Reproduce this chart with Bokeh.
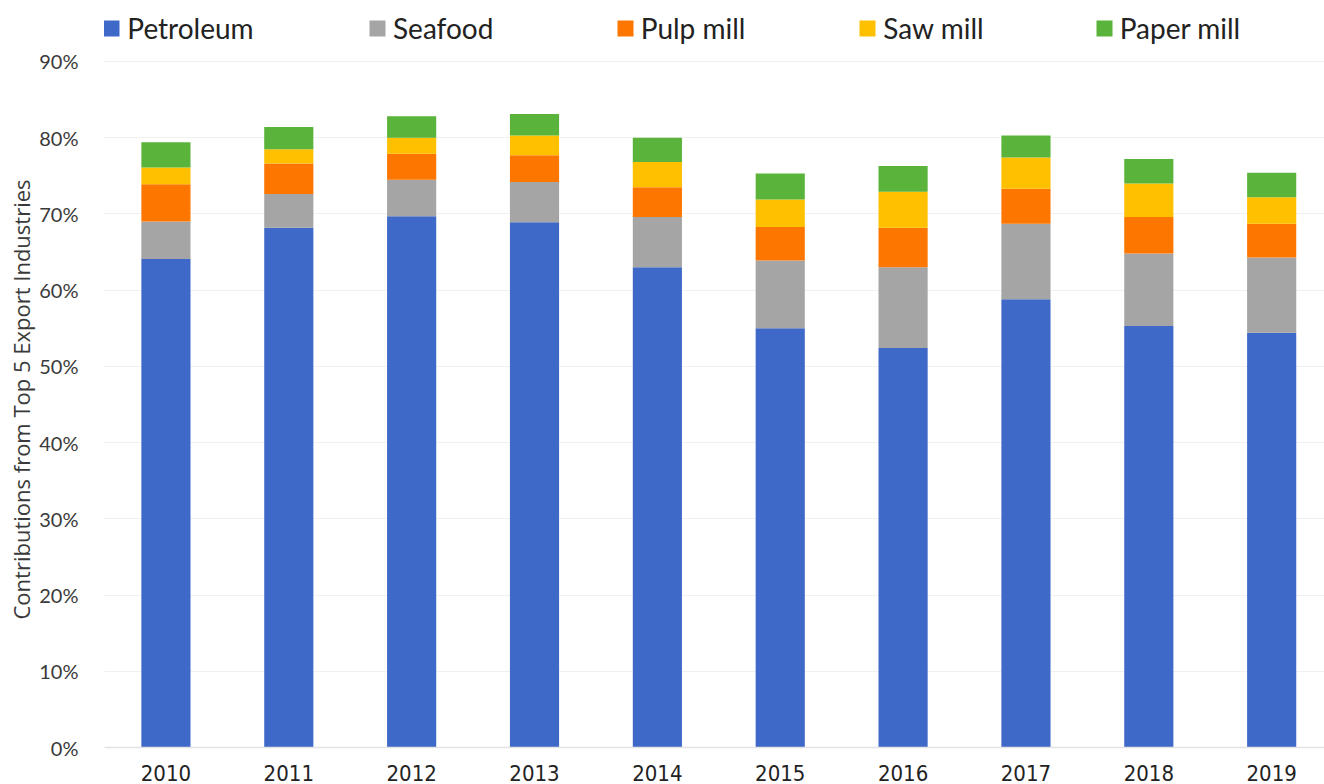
from bokeh.plotting import figure
from bokeh.models import Range1d, FixedTicker, PrintfTickFormatter, Legend, LegendItem, Title
from bokeh.embed import file_html
from bokeh.resources import INLINE

years = [2010, 2011, 2012, 2013, 2014, 2015, 2016, 2017, 2018, 2019]
petroleum = [64.1, 68.2, 69.7, 68.9, 63.0, 55.0, 52.4, 58.8, 55.3, 54.4]
seafood = [4.9, 4.4, 4.8, 5.3, 6.6, 8.9, 10.6, 9.9, 9.5, 9.9]
pulp_mill = [4.9, 4.0, 3.4, 3.5, 3.9, 4.4, 5.2, 4.6, 4.8, 4.4]
saw_mill = [2.2, 1.9, 2.1, 2.6, 3.3, 3.6, 4.7, 4.1, 4.4, 3.5]
paper_mill = [3.3, 2.9, 2.8, 2.8, 3.2, 3.4, 3.4, 2.9, 3.2, 3.2]
series_names = ["Petroleum", "Seafood", "Pulp mill", "Saw mill", "Paper mill"]
series_keys = ["petroleum", "seafood", "pulp_mill", "saw_mill", "paper_mill"]
colors = ["#3F69C9", "#A5A5A5", "#FD7600", "#FFC000", "#5AB33A"]
y_ticks = [0, 10, 20, 30, 40, 50, 60, 70, 80, 90]
y_title = "Contributions from Top 5 Export Industries"

data = dict(year=years, petroleum=petroleum, seafood=seafood,
            pulp_mill=pulp_mill, saw_mill=saw_mill, paper_mill=paper_mill)

# frame spans the legend row too; the 90% gridline sits at ~61px from the top
p = figure(frame_width=1220, frame_height=747,
           x_range=Range1d(2009.5, 2019.43), y_range=Range1d(0, 98.0),
           output_backend="svg", toolbar_location=None,
           min_border_left=104, min_border_right=0, min_border_top=0, min_border_bottom=37,
           outline_line_color=None, background_fill_color="white", border_fill_color="white")

rs = p.vbar_stack(series_keys, x="year", width=0.4, source=data, color=colors, line_color=None)

p.yaxis.ticker = FixedTicker(ticks=y_ticks)
p.yaxis.formatter = PrintfTickFormatter(format="%d%%")
p.yaxis.axis_line_color = None
p.yaxis.major_tick_line_color = None
p.yaxis.minor_tick_line_color = None
p.yaxis.major_label_standoff = 20
p.yaxis.major_label_text_font = "Lato"
p.yaxis.major_label_text_font_size = "20px"
p.yaxis.major_label_text_color = "#3A3A3A"

t = Title(text=y_title, align="left", offset=128, standoff=1,
          text_font="Open Sans", text_font_size="22px", text_font_style="normal",
          text_color="#3A3A3A")
p.add_layout(t, "left")

p.xaxis.ticker = FixedTicker(ticks=years)
p.xaxis.formatter = PrintfTickFormatter(format="%d")
p.xaxis.axis_line_color = "#E3E3E3"
p.xaxis.axis_line_width = 1.5
p.xaxis.major_tick_line_color = None
p.xaxis.minor_tick_line_color = None
p.xaxis.major_label_standoff = 11
p.xaxis.major_label_text_font = "DejaVu Sans Condensed, Lato"
p.xaxis.major_label_text_font_size = "22px"
p.xaxis.major_label_text_color = "#222222"

p.xgrid.grid_line_color = None
p.ygrid.grid_line_color = "#F0F0F0"
p.ygrid.grid_line_width = 1

legend_x = [-2.7, 263, 510.7, 753.3, 989.7]
for name, r, lx in zip(series_names, rs, legend_x):
    lg = Legend(items=[LegendItem(label=name, renderers=[r])], location=(lx, 702),
                orientation="horizontal", padding=0, margin=0, spacing=0,
                glyph_width=20, glyph_height=20, label_standoff=6,
                label_text_font="Lato", label_text_font_size="28px", label_text_color="#222222",
                border_line_color=None, background_fill_alpha=0)
    p.add_layout(lg, "center")

open("out.html", "w").write(file_html(p, INLINE))
